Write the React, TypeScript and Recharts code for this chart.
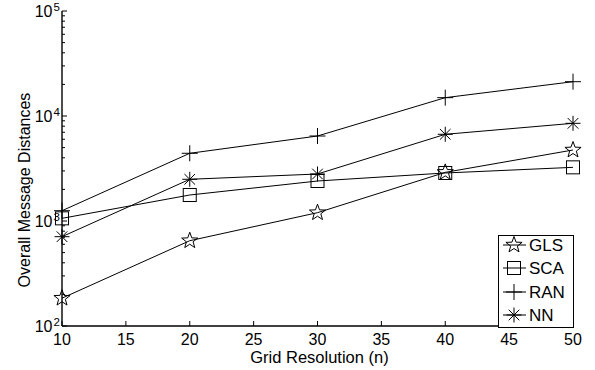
import React from 'react';
import { LineChart, Line, XAxis, YAxis } from 'recharts';

const xValues = [10, 20, 30, 40, 50];
const glsValues = [184, 649, 1200, 2905, 4745];
const scaValues = [1060, 1768, 2404, 2866, 3244];
const ranValues = [1253, 4415, 6449, 14950, 21220];
const nnValues = [709, 2496, 2803, 6694, 8516];

const xTicks = [10, 15, 20, 25, 30, 35, 40, 45, 50];
const yTicks = [
  100, 200, 300, 400, 500, 600, 700, 800, 900,
  1000, 2000, 3000, 4000, 5000, 6000, 7000, 8000, 9000,
  10000, 20000, 30000, 40000, 50000, 60000, 70000, 80000, 90000,
  100000,
];
const seriesNames = ['GLS', 'SCA', 'RAN', 'NN'];

const data = xValues.map((x, i) => ({
  x,
  GLS: glsValues[i],
  SCA: scaValues[i],
  RAN: ranValues[i],
  NN: nnValues[i],
}));

const FONT = '"Liberation Sans", Arial, Helvetica, sans-serif';
const INK = '#000';

const isDecade = (v: number) => {
  const e = Math.log10(v);
  return Math.abs(e - Math.round(e)) < 1e-9;
};

function starPath(cx: number, cy: number, R: number, r: number) {
  const pts: string[] = [];
  for (let i = 0; i < 10; i++) {
    const rad = i % 2 === 0 ? R : r;
    const a = -Math.PI / 2 + (i * Math.PI) / 5;
    pts.push(`${(cx + rad * Math.cos(a)).toFixed(2)},${(cy + rad * Math.sin(a)).toFixed(2)}`);
  }
  return `M${pts.join('L')}Z`;
}

function MarkerShape({ kind, cx, cy }: { kind: string; cx: number; cy: number }) {
  const sw = 1;
  if (kind === 'GLS') {
    return <path d={starPath(cx, cy, 8.5, 3.5)} fill="none" stroke={INK} strokeWidth={sw} />;
  }
  if (kind === 'SCA') {
    return <rect x={cx - 6.5} y={cy - 6.5} width={13} height={13} fill="none" stroke={INK} strokeWidth={sw} />;
  }
  if (kind === 'RAN') {
    return (
      <g stroke={INK} strokeWidth={sw}>
        <line x1={cx - 8} x2={cx + 8} y1={cy} y2={cy} />
        <line x1={cx} x2={cx} y1={cy - 8} y2={cy + 8} />
      </g>
    );
  }
  const d = 7.5;
  const k = d * 0.707;
  return (
    <g stroke={INK} strokeWidth={sw}>
      <line x1={cx - d} x2={cx + d} y1={cy} y2={cy} />
      <line x1={cx} x2={cx} y1={cy - d} y2={cy + d} />
      <line x1={cx - k} x2={cx + k} y1={cy - k} y2={cy + k} />
      <line x1={cx - k} x2={cx + k} y1={cy + k} y2={cy - k} />
    </g>
  );
}

const makeDot = (kind: string) => (props: any) => {
  const { cx, cy, index } = props;
  if (cx == null || cy == null) return <g key={`${kind}-${index}`} />;
  return (
    <g key={`${kind}-${index}`}>
      <MarkerShape kind={kind} cx={cx} cy={cy} />
    </g>
  );
};

const LeftTick = (props: any) => {
  const { x, y, payload } = props;
  const v = payload.value as number;
  const major = isDecade(v);
  const exp = Math.round(Math.log10(v));
  return (
    <g>
      <line x1={x} x2={x + (major ? 5 : 3)} y1={y} y2={y} stroke={INK} strokeWidth={1} />
      {major && (
        <>
          <text x={x - 9.5} y={y + 5.5} textAnchor="end" fontSize={16} fontFamily={FONT} fill={INK}>
            10
          </text>
          <text x={x - 8.5} y={y - 0.5} textAnchor="start" fontSize={11.5} fontFamily={FONT} fill={INK}>
            {exp}
          </text>
        </>
      )}
    </g>
  );
};

const RightTick = (props: any) => {
  const { x, y, payload } = props;
  const major = isDecade(payload.value as number);
  return <line x1={x} x2={x - (major ? 5 : 3)} y1={y} y2={y} stroke={INK} strokeWidth={1} />;
};

const BottomTick = (props: any) => {
  const { x, y, payload } = props;
  return (
    <g>
      <line x1={x} x2={x} y1={y} y2={y - 5} stroke={INK} strokeWidth={1} />
      <text x={x} y={y + 18.5} textAnchor="middle" fontSize={16} fontFamily={FONT} fill={INK}>
        {payload.value}
      </text>
    </g>
  );
};

const TopTick = (props: any) => {
  const { x, y } = props;
  return <line x1={x} x2={x} y1={y} y2={y + 5} stroke={INK} strokeWidth={1} />;
};

const YLabel = () => {
  const cx = 24;
  const cy = 190;
  return (
    <text
      x={cx}
      y={cy}
      transform={`rotate(-90, ${cx}, ${cy})`}
      textAnchor="middle"
      dominantBaseline="central"
      fontSize={16}
      fontFamily={FONT}
      fill={INK}
    >
      Overall Message Distances
    </text>
  );
};

const XLabel = (props: any) => {
  const vb = props.viewBox || { x: 62, y: 326, width: 511, height: 44 };
  return (
    <text
      x={vb.x + vb.width / 2 + 2}
      y={vb.y + 37}
      textAnchor="middle"
      fontSize={16.5}
      fontFamily={FONT}
      fill={INK}
    >
      Grid Resolution (n)
    </text>
  );
};

function LegendBox() {
  const w = 75;
  const h = 92;
  const rowY = [10, 33, 57, 80];
  return (
    <svg width={w + 1} height={h + 1} style={{ display: 'block' }}>
      <rect x={0.5} y={0.5} width={w} height={h} fill="#fff" stroke={INK} strokeWidth={1} />
      {seriesNames.map((name, i) => (
        <g key={name}>
          <line x1={5} x2={28} y1={rowY[i]} y2={rowY[i]} stroke={INK} strokeWidth={1} />
          <MarkerShape kind={name} cx={16} cy={rowY[i]} />
          <text x={31} y={rowY[i] + 6} fontSize={17} fontFamily={FONT} fill={INK}>
            {name}
          </text>
        </g>
      ))}
    </svg>
  );
}

export default function App() {
  return (
    <div style={{ position: 'absolute', left: 0, top: 0, width: 595, height: 370, background: '#fff' }}>
      <LineChart
        width={595}
        height={370}
        data={data}
        margin={{ top: 11, right: 22, bottom: 0, left: 0 }}
      >
        <XAxis
          xAxisId="bottom"
          dataKey="x"
          type="number"
          domain={[10, 50]}
          ticks={xTicks}
          interval={0}
          height={44}
          tickSize={0}
          tickMargin={0}
          tickLine={false}
          tick={BottomTick}
          axisLine={{ stroke: INK, strokeWidth: 1.4 }}
          label={XLabel}
        />
        <XAxis
          xAxisId="top"
          orientation="top"
          dataKey="x"
          type="number"
          domain={[10, 50]}
          ticks={xTicks}
          interval={0}
          height={0}
          tickSize={0}
          tickMargin={0}
          tickLine={false}
          tick={TopTick}
          axisLine={{ stroke: INK, strokeWidth: 1.4 }}
        />
        <YAxis
          yAxisId="left"
          type="number"
          scale="log"
          domain={[100, 100000]}
          ticks={yTicks}
          interval={0}
          width={62}
          tickSize={0}
          tickMargin={0}
          tickLine={false}
          tick={LeftTick}
          axisLine={{ stroke: INK, strokeWidth: 1.4 }}
          label={YLabel}
        />
        <YAxis
          yAxisId="right"
          orientation="right"
          type="number"
          scale="log"
          domain={[100, 100000]}
          ticks={yTicks}
          interval={0}
          width={0}
          tickSize={0}
          tickMargin={0}
          tickLine={false}
          tick={RightTick}
          axisLine={{ stroke: INK, strokeWidth: 1.4 }}
        />
        {seriesNames.map((name) => (
          <Line
            key={name}
            xAxisId="bottom"
            yAxisId="left"
            type="linear"
            dataKey={name}
            stroke={INK}
            strokeWidth={1}
            dot={makeDot(name)}
            activeDot={false}
            isAnimationActive={false}
          />
        ))}
      </LineChart>
      <div style={{ position: 'absolute', left: 498, top: 235 }}>
        <LegendBox />
      </div>
    </div>
  );
}
